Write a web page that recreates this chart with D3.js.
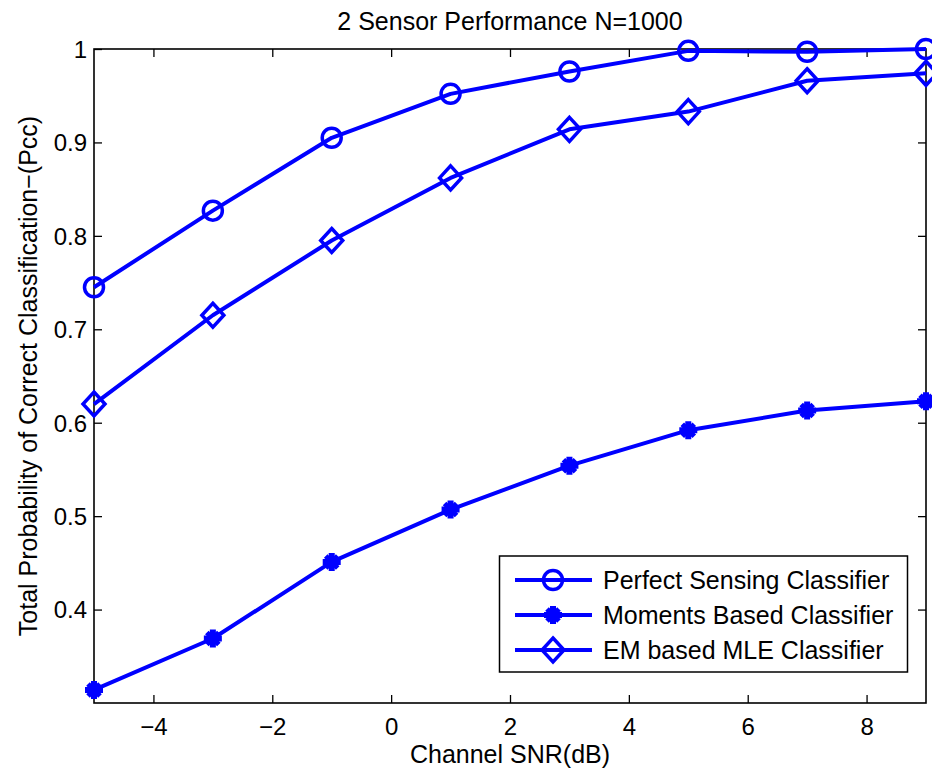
<!DOCTYPE html>
<html>
<head>
<meta charset="utf-8">
<script src="https://cdn.jsdelivr.net/npm/d3@7"></script>
<style>
  body { margin: 0; background: #fff; }
  svg text { font-family: "Liberation Sans", Arial, sans-serif; fill: #000; }
</style>
</head>
<body>
<div id="chart"></div>
<script>
let width = 932;
let height = 773;

// data
let snr = [-5, -3, -1, 1, 3, 5, 7, 9];
let perfectPcc = [0.745, 0.827, 0.905, 0.952, 0.976, 0.998, 0.997, 1.0];
let momentsPcc = [0.314, 0.369, 0.451, 0.507, 0.554, 0.592, 0.613, 0.623];
let emPcc = [0.620, 0.715, 0.795, 0.862, 0.914, 0.933, 0.966, 0.974];

let xTicks = [-4, -2, 0, 2, 4, 6, 8];
let yTicks = [0.4, 0.5, 0.6, 0.7, 0.8, 0.9, 1];

let seriesNames = ["Perfect Sensing Classifier", "Moments Based Classifier", "EM based MLE Classifier"];
let seriesMarkers = ["circle", "plus", "diamond"];
let seriesValues = [perfectPcc, momentsPcc, emPcc];

let plotLeft = 94, plotRight = 926, plotTop = 49, plotBottom = 703;
let blue = "#0000ff";
let tickFont = 24, labelFont = 25;

let x = d3.scaleLinear().domain([-5, 9]).range([plotLeft, plotRight]);
let y = d3.scaleLinear().domain([0.3, 1]).range([plotBottom, plotTop]);

let svg = d3.select("#chart").append("svg")
    .attr("width", width)
    .attr("height", height);

// axes, ticks point inward like matlab
svg.append("g")
    .attr("transform", `translate(0,${plotBottom})`)
    .call(d3.axisBottom(x).tickValues(xTicks).tickSizeInner(-8).tickSizeOuter(0).tickPadding(15))
    .call(g => g.selectAll("text").attr("font-size", tickFont));
svg.append("g")
    .attr("transform", `translate(0,${plotTop})`)
    .call(d3.axisTop(x).tickValues(xTicks).tickSizeInner(-8).tickSizeOuter(0).tickFormat(""));
svg.append("g")
    .attr("transform", `translate(${plotLeft},0)`)
    .call(d3.axisLeft(y).tickValues(yTicks).tickSizeInner(-8).tickSizeOuter(0).tickPadding(7).tickFormat(d3.format("")))
    .call(g => g.selectAll("text").attr("font-size", tickFont).attr("dy", "0.35em"));
svg.append("g")
    .attr("transform", `translate(${plotRight},0)`)
    .call(d3.axisRight(y).tickValues(yTicks).tickSizeInner(-8).tickSizeOuter(0).tickFormat(""));

svg.selectAll(".domain").remove();
svg.selectAll(".tick line").attr("stroke", "#000").attr("stroke-width", 1.3);
svg.append("rect")
    .attr("x", plotLeft).attr("y", plotTop)
    .attr("width", plotRight - plotLeft).attr("height", plotBottom - plotTop)
    .attr("fill", "none").attr("stroke", "#000").attr("stroke-width", 1.6);

// marker drawing
function drawMarker(g, kind, cx, cy) {
    if (kind == "circle") {
        g.append("circle").attr("cx", cx).attr("cy", cy).attr("r", 9.5)
            .attr("fill", "none").attr("stroke", blue).attr("stroke-width", 3.5);
    } else if (kind == "diamond") {
        g.append("path")
            .attr("d", `M${cx},${cy - 12}L${cx + 11},${cy}L${cx},${cy + 12}L${cx - 11},${cy}Z`)
            .attr("fill", "none").attr("stroke", blue).attr("stroke-width", 3.5);
    } else {
        g.append("path")
            .attr("d", `M${cx - 9},${cy}H${cx + 9}M${cx},${cy - 9}V${cy + 9}`)
            .attr("stroke", blue).attr("stroke-width", 6);
        g.append("path")
            .attr("d", `M${cx - 6},${cy - 6}L${cx + 6},${cy + 6}M${cx - 6},${cy + 6}L${cx + 6},${cy - 6}`)
            .attr("stroke", blue).attr("stroke-width", 5);
    }
}

let line = d3.line().x((d, i) => x(snr[i])).y(d => y(d));

seriesValues.forEach((vals, k) => {
    let g = svg.append("g");
    g.append("path")
        .attr("d", line(vals))
        .attr("fill", "none")
        .attr("stroke", blue)
        .attr("stroke-width", 4)
        .attr("stroke-linejoin", "round");
    vals.forEach((v, i) => drawMarker(g, seriesMarkers[k], x(snr[i]), y(v)));
});

// legend
let legend = svg.append("g");
legend.append("rect")
    .attr("x", 499.5).attr("y", 556)
    .attr("width", 408).attr("height", 116)
    .attr("fill", "#fff").attr("stroke", "#000").attr("stroke-width", 1.5);
let rowY = [580, 615, 650];
seriesNames.forEach((name, k) => {
    legend.append("line")
        .attr("x1", 515).attr("x2", 592)
        .attr("y1", rowY[k]).attr("y2", rowY[k])
        .attr("stroke", blue).attr("stroke-width", 4);
    drawMarker(legend, seriesMarkers[k], 553, rowY[k]);
    legend.append("text")
        .attr("x", 603).attr("y", rowY[k])
        .attr("dy", "0.35em")
        .attr("font-size", labelFont)
        .text(name);
});

// titles
svg.append("text")
    .attr("x", (plotLeft + plotRight) / 2).attr("y", 30)
    .attr("text-anchor", "middle")
    .attr("font-size", labelFont)
    .text("2 Sensor Performance N=1000");
svg.append("text")
    .attr("x", (plotLeft + plotRight) / 2).attr("y", 763)
    .attr("text-anchor", "middle")
    .attr("font-size", labelFont)
    .text("Channel SNR(dB)");
svg.append("text")
    .attr("transform", `translate(37,${(plotTop + plotBottom) / 2}) rotate(-90)`)
    .attr("text-anchor", "middle")
    .attr("font-size", labelFont)
    .text("Total Probability of Correct Classification\u2212(Pcc)");
</script>
</body>
</html>
